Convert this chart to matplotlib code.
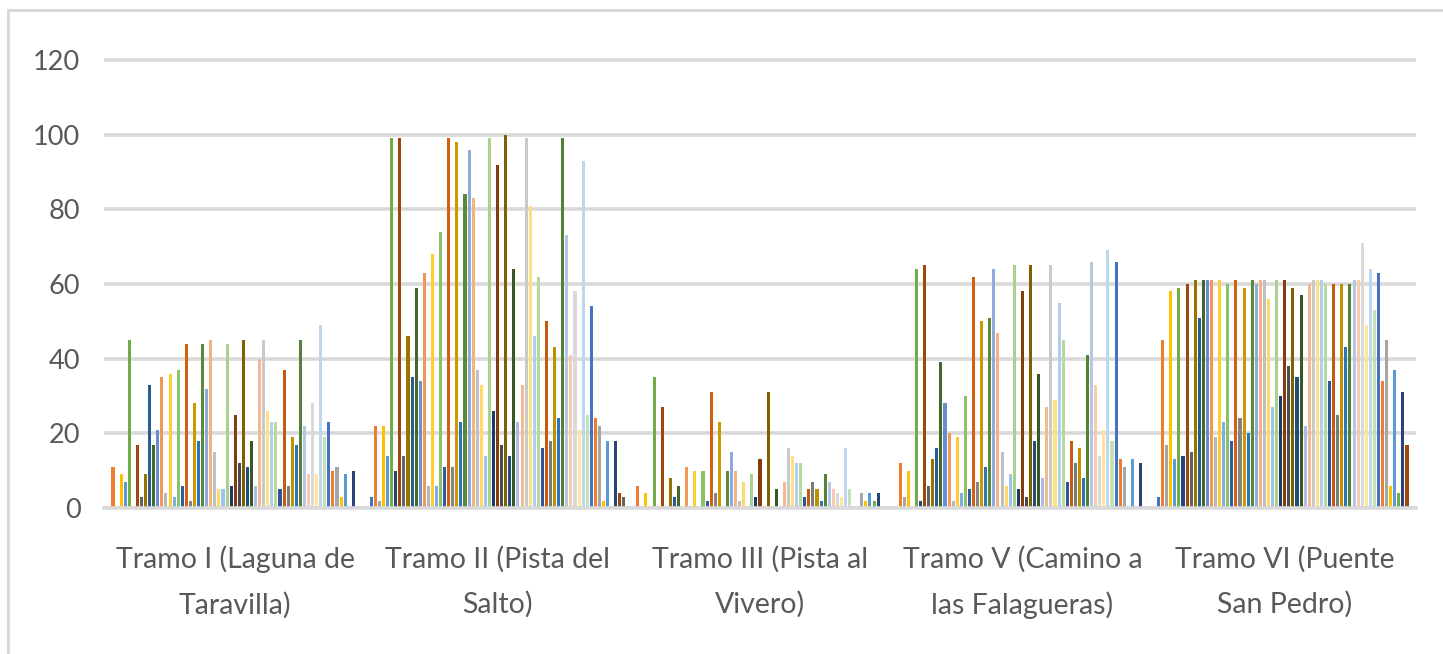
import matplotlib
matplotlib.use("Agg")
import matplotlib.pyplot as plt
from matplotlib.patches import Rectangle
import numpy as np

plt.rcParams['font.family'] = ['Lato', 'DejaVu Sans']

categories = ["Tramo I (Laguna de\nTaravilla)", "Tramo II (Pista del\nSalto)",
              "Tramo III (Pista al\nVivero)", "Tramo V (Camino a\nlas Falagueras)",
              "Tramo VI (Puente\nSan Pedro)"]

# one value per series (63 series), per tramo
tramo_1 = [0, 11, 0, 9, 7, 45, 0, 17, 3, 9, 33, 17, 21, 35, 4, 36, 3, 37, 6, 44, 2,
           28, 18, 44, 32, 45, 15, 5, 5, 44, 6, 25, 12, 45, 11, 18, 6, 40, 45, 26, 23,
           23, 5, 37, 6, 19, 17, 45, 22, 9, 28, 9, 49, 19, 23, 10, 11, 3, 9, 0, 10, 0, 0]
tramo_2 = [3, 22, 2, 22, 14, 99, 10, 99, 14, 46, 35, 59, 34, 63, 6, 68, 6, 74, 11, 99, 11,
           98, 23, 84, 96, 83, 37, 33, 14, 99, 26, 92, 17, 100, 14, 64, 23, 33, 99, 81, 46,
           62, 16, 50, 18, 43, 24, 99, 73, 41, 58, 21, 93, 25, 54, 24, 22, 2, 18, 0, 18, 4, 3]
tramo_3 = [0, 6, 0, 4, 0, 35, 0, 27, 0, 8, 3, 6, 0, 11, 0, 10, 0, 10, 2, 31, 4,
           23, 0, 10, 15, 10, 2, 7, 0, 9, 3, 13, 0, 31, 0, 5, 0, 7, 16, 14, 12,
           12, 3, 5, 7, 5, 2, 9, 7, 5, 4, 3, 16, 5, 0, 0, 4, 2, 4, 2, 4, 0, 0]
tramo_5 = [0, 12, 3, 10, 0, 64, 2, 65, 6, 13, 16, 39, 28, 20, 2, 19, 4, 30, 5, 62, 7,
           50, 11, 51, 64, 47, 15, 6, 9, 65, 5, 58, 3, 65, 18, 36, 8, 27, 65, 29, 55,
           45, 7, 18, 12, 16, 8, 41, 66, 33, 14, 21, 69, 18, 66, 13, 11, 0, 13, 0, 12, 0, 0]
tramo_6 = [3, 45, 17, 58, 13, 59, 14, 60, 15, 61, 51, 61, 61, 61, 19, 61, 23, 60, 18, 61, 24,
           59, 20, 61, 60, 61, 61, 56, 27, 61, 30, 61, 38, 59, 35, 57, 22, 60, 61, 61, 61,
           60, 34, 60, 25, 60, 43, 60, 61, 61, 71, 49, 64, 53, 63, 34, 45, 6, 37, 4, 31, 17, 0]

palette = ["#4472C4", "#ED7D31", "#A5A5A5", "#FFC000", "#5B9BD5", "#70AD47",
           "#264478", "#9E480E", "#636363", "#997300", "#255E91", "#43682B",
           "#698ED0", "#F1975A", "#B7B7B7", "#FFCD33", "#7CAFDD", "#8CC168",
           "#335AA1", "#D26012", "#848484", "#CC9A00", "#2E75B6", "#5A8A39",
           "#8FAADC", "#F4B183", "#C0C0C0", "#FFD966", "#9DC3E6", "#A9D18E",
           "#1F3864", "#843C0C", "#4B4B4B", "#7F6000", "#1F4E79", "#385723",
           "#A9BDE6", "#F5B98F", "#C9C9C9", "#FFE07F", "#B0CFEC", "#B7D9A0",
           "#2F5597", "#C55A11", "#7B7B7B", "#BF9000", "#2E75B6", "#548235",
           "#B4C7E7", "#F8CBAD", "#D9D9D9", "#FFE699", "#BDD7EE", "#C5E0B4"]

data = np.array([tramo_1, tramo_2, tramo_3, tramo_5, tramo_6])
n_series = data.shape[1]
x = np.arange(len(categories))
slot = 0.01552

fig = plt.figure(figsize=(14.43, 6.54), dpi=100)
ax = fig.add_axes([104 / 1443, 1 - 508 / 654, 1312 / 1443, 121 * 3.733 / 654])

for k in range(n_series):
    off = (k - (n_series - 1) / 2) * slot
    ax.bar(x + off, data[:, k], width=slot * 0.75, color=palette[k % len(palette)],
           zorder=3, linewidth=0)

ax.set_xlim(-0.5, 4.5)
ax.set_ylim(0, 121)
ax.set_yticks(np.arange(0, 121, 20))
ax.yaxis.grid(True, color="#D9D9D9", linewidth=2.6, zorder=0)
ax.set_axisbelow(True)
for s in ["top", "right", "left"]:
    ax.spines[s].set_visible(False)
ax.spines["bottom"].set_color("#D9D9D9")
ax.spines["bottom"].set_linewidth(2.6)
ax.spines["bottom"].set_zorder(4)
ax.set_xticks(x)
ax.set_xticklabels(categories, linespacing=1.85, fontsize=20.5)
ax.tick_params(axis="both", length=0, labelcolor="#595959")
ax.tick_params(axis="y", pad=17, labelsize=19.5)
ax.tick_params(axis="x", pad=27)

fig.patches.append(Rectangle((8 / 1443, -0.1), 1.2, 1.1 - 10 / 654,
                             transform=fig.transFigure, fill=False,
                             edgecolor="#D9D9D9", linewidth=2.2))

plt.savefig("out.png", dpi=100)
